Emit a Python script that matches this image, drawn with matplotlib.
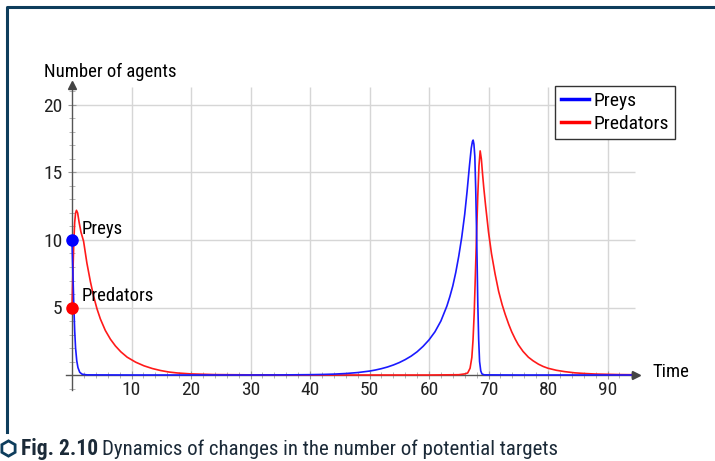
import matplotlib
matplotlib.use("Agg")
import matplotlib.pyplot as plt
from matplotlib import font_manager
from matplotlib.lines import Line2D

# pick a narrow font if we have one
names = set(f.name for f in font_manager.fontManager.ttflist)
fam = "DejaVu Sans"
for cand in ["Liberation Sans Narrow", "Roboto Condensed", "Open Sans Condensed", "DejaVu Sans"]:
    if cand in names:
        fam = cand
        break
plt.rcParams['font.family'] = [fam, 'DejaVu Sans']

#>>--<<..>>--<<..>>--<<..>>--<<  data  >>--<<..>>--<<..>>--<<..>>--<<#

preys_t = [0, 0.15, 0.3, 0.45, 0.6, 0.8, 1.0, 1.3, 1.7, 2.5, 10, 20, 30, 35, 40,
           42, 44, 46, 48, 50, 51, 52, 53, 54, 55, 56, 57, 58, 59, 60, 61, 62, 63,
           63.5, 64, 64.5, 65, 65.5, 66, 66.4, 66.8, 67.1, 67.3, 67.42, 67.55,
           67.7, 67.85, 68.0, 68.1, 68.2, 68.35, 68.5, 68.7, 68.9, 69.3, 75, 85, 94.5]
preys_v = [10, 7.6, 5.2, 3.3, 2.0, 1.05, 0.55, 0.2, 0.06, 0.01, 0, 0, 0, 0.006, 0.024,
           0.04, 0.065, 0.11, 0.18, 0.29, 0.37, 0.47, 0.59, 0.74, 0.92, 1.14, 1.4,
           1.72, 2.12, 2.6, 3.2, 4.0, 5.1, 5.8, 6.6, 7.6, 8.8, 10.2, 11.9, 13.6, 15.5,
           16.8, 17.3, 17.4, 17.1, 16.2, 13.8, 10.5, 8.0, 5.3, 2.6, 1.0, 0.3, 0.08,
           0.01, 0, 0, 0]

pred_t = [0, 0.15, 0.3, 0.45, 0.6, 0.75, 0.95, 1.2, 1.5, 1.95, 2.5, 3.1, 3.65, 4.2,
          4.77, 5.6, 6.46, 7.3, 8.2, 9.27, 10.7, 12.1, 13.5, 14.9, 16.3, 17.7, 20,
          24, 30, 40, 60, 65, 66, 66.5, 66.9, 67.2, 67.4, 67.6, 67.8, 68.0, 68.2,
          68.4, 68.6, 68.8, 69.0, 69.2, 69.5, 70.0, 70.5, 71.1, 71.7, 72.3, 72.8,
          73.4, 73.9, 74.5, 75.0, 75.8, 76.7, 77.5, 78.4, 79.2, 80, 81.4, 82.8,
          84.5, 86.2, 88, 90, 92, 94.5]
pred_v = [5, 7.5, 9.8, 11.3, 12.0, 12.2, 12.0, 11.3, 10.6, 9.9, 8.3, 6.9, 5.8, 4.9,
          4.15, 3.3, 2.65, 2.15, 1.72, 1.32, 0.95, 0.68, 0.48, 0.33, 0.22, 0.15, 0.08,
          0.03, 0.01, 0, 0, 0.02, 0.08, 0.15, 0.5, 1.3, 2.6, 4.6, 7.5, 10.5, 13.3,
          15.5, 16.6, 16.0, 14.9, 13.9, 12.6, 10.6, 9.0, 7.5, 6.2, 5.2, 4.5,
          3.75, 3.2, 2.65, 2.25, 1.75, 1.32, 1.05, 0.8, 0.63, 0.5, 0.35, 0.25,
          0.16, 0.11, 0.07, 0.05, 0.03, 0.02]

x_major = [10, 20, 30, 40, 50, 60, 70, 80, 90]
y_major = [5, 10, 15, 20]
x_minor = [2, 4, 6, 8, 12, 14, 16, 18, 22, 24, 26, 28, 32, 34, 36, 38, 42, 44, 46, 48,
           52, 54, 56, 58, 62, 64, 66, 68, 72, 74, 76, 78, 82, 84, 86, 88, 92, 94]
y_minor = [-1, 1, 2, 3, 4, 6, 7, 8, 9, 11, 12, 13, 14, 16, 17, 18, 19, 21]

start_pts = {'Preys': 10, 'Predators': 5}

#>>--<<..>>--<<..>>--<<..>>--<<..>>--<<..>>--<<..>>--<<..>>--<<..>>--<<#

W, H = 715, 461
fig = plt.figure(figsize=(W/100, H/100), dpi=100)

# axes box in pixels (left, right, top, bottom)
L, R, T, B = 20, 705, 60, 420
ax = fig.add_axes([L/W, (H-B)/H, (R-L)/W, (B-T)/H])
x0, sx = 72, 5.95   # px of t=0, px per unit
y0, sy = 375, 13.5
ax.set_xlim((L-x0)/sx, (R-x0)/sx)
ax.set_ylim((y0-B)/sy, (y0-T)/sy)

for s in ['top', 'right']:
    ax.spines[s].set_visible(False)
ax.spines['left'].set_position(('data', 0))
ax.spines['bottom'].set_position(('data', 0))
ax.spines['left'].set_bounds(-1.1, 21.3)
ax.spines['bottom'].set_bounds(-1, 94.5)
for s in ['left', 'bottom']:
    ax.spines[s].set_color('#555555')
    ax.spines[s].set_linewidth(1.0)

ax.set_xticks(x_major)
ax.set_yticks(y_major)
ax.set_xticks(x_minor, minor=True)
ax.set_yticks(y_minor, minor=True)
ax.tick_params(which='major', direction='inout', length=6, color='#999999',
               labelsize=14, labelcolor='#222222')
ax.tick_params(which='minor', direction='inout', length=4, color='#aaaaaa')
ax.tick_params(axis='x', pad=1)
ax.tick_params(axis='y', pad=4)

# partial grid
ax.hlines(y_major, 0, 94.6, color='#d6d6d6', lw=1.0, zorder=0)
ax.vlines(x_major, 0, 21.3, color='#d6d6d6', lw=1.0, zorder=0)

# arrows
ax.plot([0], [21.5], marker='^', ms=6, color='#444444', clip_on=False, zorder=5)
ax.plot([94.8], [0], marker='>', ms=6, color='#444444', clip_on=False, zorder=5)

ax.plot(pred_t, pred_v, color='#ff1a1a', lw=1.2, label='Predators', zorder=3)
ax.plot(preys_t, preys_v, color='#1a1aff', lw=1.2, label='Preys', zorder=4)

ax.plot([0], [start_pts['Preys']], 'o', color='#0000ff', ms=8, zorder=6, clip_on=False)
ax.plot([0], [start_pts['Predators']], 'o', color='#ff0000', ms=8, zorder=6, clip_on=False)
ax.text(1.7, start_pts['Preys'] + 0.85, 'Preys', fontsize=13.5, va='center', ha='left')
ax.text(1.6, start_pts['Predators'] + 0.85, 'Predators', fontsize=13.5, va='center', ha='left')

ax.text((44-x0)/sx, (y0-72)/sy, 'Number of agents', fontsize=13.5, va='center', ha='left')
ax.text((652-x0)/sx, (y0-372)/sy, 'Time', fontsize=13.5, va='center', ha='left')

hnd = [Line2D([], [], color='#0000ff', lw=2.5), Line2D([], [], color='#ff0000', lw=2.5)]
leg = ax.legend(hnd, ['Preys', 'Predators'], loc='upper left',
                bbox_to_anchor=(555/W, 1-86/H), bbox_transform=fig.transFigure,
                fontsize=14, fancybox=False, framealpha=1, edgecolor='#333333',
                borderpad=0.3, labelspacing=0.25, handlelength=1.45, handletextpad=0.25,
                borderaxespad=0)
leg.get_frame().set_linewidth(1.0)

# frame
fig.add_artist(Line2D([7/W, 7/W, 1.0], [1-432/H, 1-7.5/H, 1-7.5/H],
                      transform=fig.transFigure, color='#0e3d5c', lw=2.2))

# caption
fig.add_artist(Line2D([8/W], [1-448/H], marker='h', ms=11, mfc='none', mec='#0e3d5c',
                      mew=2.0, transform=fig.transFigure))
fig.text(21/W, 1-449/H, 'Fig. 2.10', fontsize=15.5, fontweight='bold', color='#1b2a38',
         va='center', ha='left')
fig.text(102/W, 1-449/H, 'Dynamics of changes in the number of potential targets',
         fontsize=15, color='#1b2a38', va='center', ha='left')

fig.savefig('out.png', dpi=100)
